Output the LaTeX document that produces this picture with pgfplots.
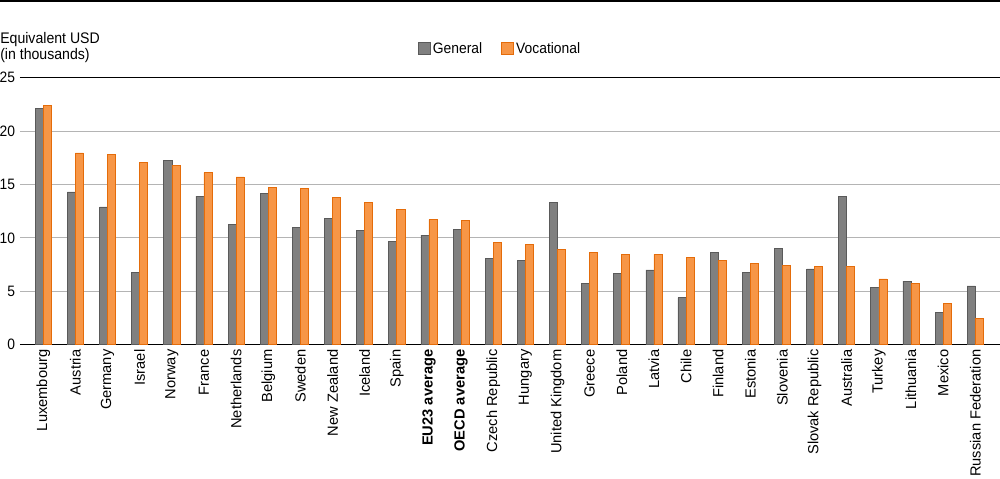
\documentclass[border=0pt]{standalone}
\usepackage{pgfplots}
\pgfplotsset{compat=1.18}
\usepackage{pgfplotstable}
\usepackage{fontspec}
\setmainfont{Liberation Sans}[FakeStretch=0.92]
\newfontfamily\rotfont{Liberation Sans}[FakeStretch=1.0]
\definecolor{gen}{HTML}{808080}
\definecolor{genedge}{HTML}{5A5A5A}
\definecolor{voc}{HTML}{F79646}
\definecolor{vocedge}{HTML}{E46C0A}
\definecolor{gridc}{HTML}{B4B4B4}
\pgfplotsset{sqlegend/.style={legend image code/.code={\draw[##1] (0pt,-4.5pt) rectangle (9pt,4.5pt);}}}

\pgfplotstableread{
x G V
0 22.1 22.4
1 14.3 17.95
2 12.9 17.85
3 6.8 17.1
4 17.25 16.8
5 13.9 16.1
6 11.25 15.7
7 14.2 14.7
8 10.95 14.65
9 11.85 13.75
10 10.7 13.3
11 9.65 12.7
12 10.25 11.7
13 10.8 11.65
14 8.05 9.55
15 7.9 9.35
16 13.3 8.9
17 5.7 8.6
18 6.7 8.45
19 7.0 8.45
20 4.4 8.2
21 8.6 7.9
22 6.75 7.6
23 9.05 7.45
24 7.1 7.3
25 13.9 7.3
26 5.35 6.15
27 5.95 5.7
28 3.05 3.9
29 5.5 2.45
}\data

\begin{document}
\begin{tikzpicture}
\path[use as bounding box] (-15pt,-100.5pt) rectangle (735pt,258.5pt);
\draw[line width=1.2pt] (-15pt,257.9pt) -- (735pt,257.9pt);
\node[anchor=base west, inner sep=0pt, font=\fontsize{11.5}{14}\selectfont] at (-15pt,226pt) {Equivalent USD};
\node[anchor=base west, inner sep=0pt, font=\fontsize{11.5}{14}\selectfont] at (-15pt,213.7pt) {(in thousands)};
\begin{axis}[
  at={(0pt,0pt)}, anchor=south west,
  scale only axis, width=735pt, height=200.25pt,
  xmin=-0.725, xmax=29.77, ymin=0, ymax=25,
  ytick={0,5,10,15,20,25},
  xtick={0,...,29},
  xticklabels={Luxembourg,Austria,Germany,Israel,Norway,France,Netherlands,Belgium,Sweden,New Zealand,Iceland,Spain,{\bfseries EU23 average},{\bfseries OECD average},Czech Republic,Hungary,United Kingdom,Greece,Poland,Latvia,Chile,Finland,Estonia,Slovenia,Slovak Republic,Australia,Turkey,Lithuania,Mexico,Russian Federation},
  major tick length=0pt,
  separate axis lines,
  x axis line style={black, line width=1.1pt},
  y axis line style={draw=none},
  ymajorgrids, grid style={gridc, line width=0.8pt},
  yticklabel style={font=\fontsize{11.3}{13}\selectfont, inner sep=0pt, anchor=east},
  /pgf/number format/assume math mode=true,
  yticklabel shift=3.5pt,
  xticklabel style={rotate=90, anchor=east, inner sep=0pt, font=\rotfont\fontsize{11}{12}\selectfont},
  xticklabel shift=3.5pt,
  ybar=0pt, bar width=0.25,
  legend columns=2,
  legend style={at={(0.49,1.109)}, anchor=center, draw=none, fill=none,
    font=\fontsize{11.3}{13}\selectfont,
    /tikz/every even column/.append style={column sep=12pt}},
]
\addplot[fill=gen, draw=genedge, line width=0.5pt, bar shift=-0.125, sqlegend] table[x=x,y=G] {\data};
\addplot[fill=voc, draw=vocedge, line width=0.5pt, bar shift=0.125, sqlegend] table[x=x,y=V] {\data};
\legend{General,Vocational}
\end{axis}
\end{tikzpicture}
\end{document}
